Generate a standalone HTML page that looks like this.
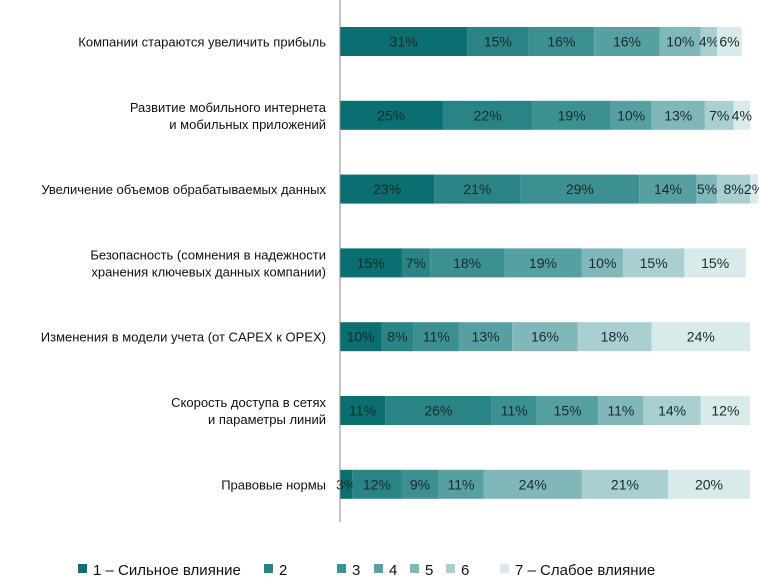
<!DOCTYPE html>
<html><head><meta charset="utf-8"><style>
body{margin:0;background:#fff;font-family:"Liberation Sans",sans-serif}
svg text{font-family:"Liberation Sans",sans-serif}
</style></head><body>
<svg id="c" width="759" height="581"></svg>
<script>
const categories=[["Компании стараются увеличить прибыль"],["Развитие мобильного интернета","и мобильных приложений"],["Увеличение объемов обрабатываемых данных"],["Безопасность (сомнения в надежности","хранения ключевых данных компании)"],["Изменения в модели учета (от CAPEX к OPEX)"],["Скорость доступа в сетях","и параметры линий"],["Правовые нормы"]];
const s1=[31,25,23,15,10,11,3];
const s2=[15,22,21,7,8,26,12];
const s3=[16,19,29,18,11,11,9];
const s4=[16,10,14,19,13,15,11];
const s5=[10,13,5,10,16,11,24];
const s6=[4,7,8,15,18,14,21];
const s7=[6,4,2,15,24,12,20];
const seriesNames=["1 – Сильное влияние","2","3","4","5","6","7 – Слабое влияние"];
const series=[s1,s2,s3,s4,s5,s6,s7];
const colors=["#0b6e70","#2a8486","#3d9092","#57a0a2","#80b8ba","#a9cfd0","#d8eaea"];
const svg=document.getElementById('c');const NS="http://www.w3.org/2000/svg";
function mk(t,a,p){const e=document.createElementNS(NS,t);for(const k in a)e.setAttribute(k,a[k]);(p||svg).appendChild(e);return e;}
const x0=340,pxPer=4.1,top0=27,pitch=73.8,bh=29;
const xs=v=>x0+v*pxPer, ys=i=>top0+i*pitch;
categories.forEach((cat,i)=>{
 let acc=0;const y=ys(i);
 series.forEach((s,j)=>{
  const v=s[i];
  const r=mk('rect',{x:xs(acc),y:y,width:v*pxPer,height:bh,fill:colors[j]});
  
  
  const t=mk('text',{x:xs(acc+v/2),y:y+bh/2+5,'text-anchor':'middle','font-size':14,fill:'#1a2a2a'});
  t.textContent=v+'%';
  
  
  acc+=v;
 });
 const n=cat.length;
 cat.forEach((line,k)=>{
  const t=mk('text',{x:326,y:y+bh/2+5+(k-(n-1)/2)*17,'text-anchor':'end','font-size':13,fill:'#111'});
  t.textContent=line;
  
  
 });
});
const ax=mk('line',{x1:x0,y1:0,x2:x0,y2:522,stroke:'#888','stroke-width':1});

const lx=[78,264,337,374,410,446,500];
seriesNames.forEach((nm,j)=>{
 const g=mk('g',{});
 
 mk('rect',{x:lx[j],y:564,width:9,height:9,fill:colors[j]},g);
 const t=mk('text',{x:lx[j]+15,y:575,'font-size':15,fill:'#111'},g);t.textContent=nm;
});
</script></body></html>
